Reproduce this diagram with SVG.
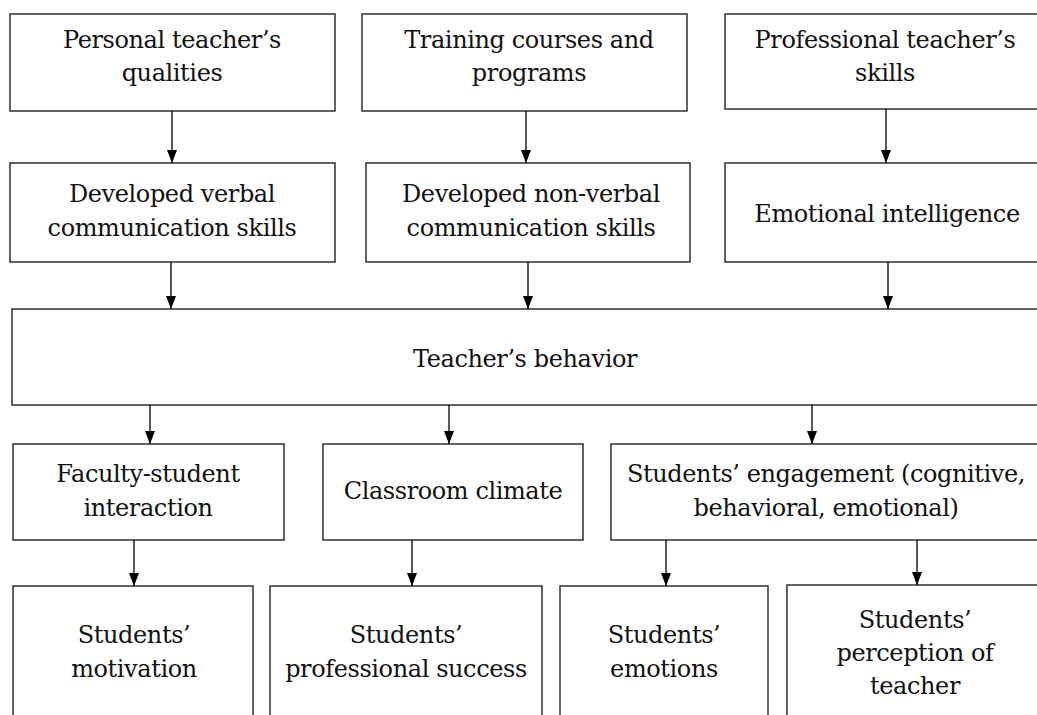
<svg xmlns="http://www.w3.org/2000/svg" width="1037" height="715" viewBox="0 0 1037 715">
<style>
.box{fill:#fff;stroke:#222;stroke-width:1.4}
text{font-family:'DejaVu Serif','Liberation Serif',serif;font-size:24px;letter-spacing:-0.4px;fill:#111;text-anchor:middle}
.c{stroke:#000;stroke-width:1.3;fill:none;marker-end:url(#ah)}
</style>
<defs>
<marker id="ah" markerWidth="13" markerHeight="10" refX="13" refY="5" orient="auto" markerUnits="userSpaceOnUse" viewBox="0 0 13 10">
<path d="M0,0 L13,5 L0,10 Z" fill="#000"/>
</marker>
</defs>
<rect width="1037" height="715" fill="#fff"/>
<g id="n1"><rect class="box" x="10" y="14" width="325" height="97"/><text x="172" y="48">Personal teacher’s</text><text x="172" y="81">qualities</text></g>
<g id="n2"><rect class="box" x="362" y="14" width="325" height="97"/><text x="529" y="48">Training courses and</text><text x="529" y="81">programs</text></g>
<g id="n3"><rect class="box" x="725" y="14" width="320" height="95"/><text x="885" y="48">Professional teacher’s</text><text x="885" y="81">skills</text></g>
<g id="n4"><rect class="box" x="10" y="163" width="325" height="99"/><text x="172" y="202">Developed verbal</text><text x="172" y="236">communication skills</text></g>
<g id="n5"><rect class="box" x="366" y="163" width="324" height="99"/><text x="531" y="202">Developed non-verbal</text><text x="531" y="236">communication skills</text></g>
<g id="n6"><rect class="box" x="725" y="163" width="320" height="99"/><text x="887" y="222">Emotional intelligence</text></g>
<g id="n7"><rect class="box" x="12" y="309" width="1033" height="96"/><text x="525" y="367">Teacher’s behavior</text></g>
<g id="n8"><rect class="box" x="13" y="444" width="271" height="96"/><text x="148" y="482">Faculty-student</text><text x="148" y="516">interaction</text></g>
<g id="n9"><rect class="box" x="323" y="444" width="260" height="96"/><text x="453" y="499">Classroom climate</text></g>
<g id="n10"><rect class="box" x="611" y="444" width="434" height="96"/><text x="826" y="482">Students’ engagement (cognitive,</text><text x="826" y="516">behavioral, emotional)</text></g>
<g id="n11"><rect class="box" x="13" y="586" width="240" height="150"/><text x="134" y="643">Students’</text><text x="134" y="677">motivation</text></g>
<g id="n12"><rect class="box" x="270" y="586" width="272" height="150"/><text x="406" y="643">Students’</text><text x="406" y="677">professional success</text></g>
<g id="n13"><rect class="box" x="560" y="586" width="208" height="150"/><text x="664" y="643">Students’</text><text x="664" y="677">emotions</text></g>
<g id="n14"><rect class="box" x="787" y="585" width="258" height="150"/><text x="915" y="628">Students’</text><text x="915" y="661">perception of</text><text x="915" y="694">teacher</text></g>
<g id="connectors">
<line class="c" x1="172" y1="111" x2="172" y2="163"/>
<line class="c" x1="526" y1="111" x2="526" y2="163"/>
<line class="c" x1="886" y1="109" x2="886" y2="163"/>
<line class="c" x1="171" y1="262" x2="171" y2="309"/>
<line class="c" x1="528" y1="262" x2="528" y2="309"/>
<line class="c" x1="888" y1="262" x2="888" y2="309"/>
<line class="c" x1="150" y1="405" x2="150" y2="444"/>
<line class="c" x1="449" y1="405" x2="449" y2="444"/>
<line class="c" x1="812" y1="405" x2="812" y2="444"/>
<line class="c" x1="134" y1="540" x2="134" y2="586"/>
<line class="c" x1="412" y1="540" x2="412" y2="586"/>
<line class="c" x1="666" y1="540" x2="666" y2="586"/>
<line class="c" x1="917" y1="540" x2="917" y2="585"/>
</g>
</svg>
